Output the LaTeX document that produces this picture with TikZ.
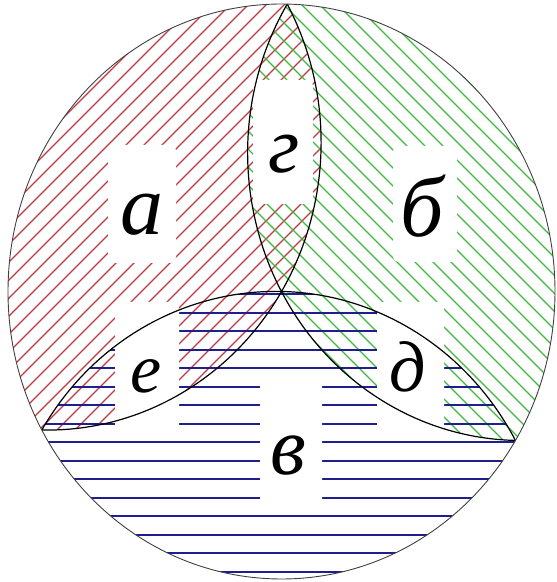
\documentclass[tikz,border=0pt]{standalone}
\usepackage{fontspec}
\setmainfont{Liberation Serif}
\definecolor{hred}{RGB}{195,55,65}
\definecolor{hgreen}{RGB}{60,185,60}
\definecolor{hblue}{RGB}{30,30,140}
\begin{document}
\begin{tikzpicture}[x=1pt,y=1pt,
  mdl/.style={shift={(281.5,290.5)},xscale=273.5,yscale=287.5,rotate=-1.2},
  outl/.style={line width=1.2pt,black},
  circ/.style={line width=0.9pt,black!75},
  redh/.style={line width=1.3pt,hred},
  greenh/.style={line width=1.4pt,hgreen},
  blueh/.style={line width=1.8pt,hblue},
  blob/.style={fill=white,draw=none,rounded corners=6pt},
  lbl/.style={anchor=base,inner sep=0pt,text=black}]
\useasboundingbox (0,0) rectangle (557,582);
% red hatching: disc 2 inside the big circle
\begin{scope}
  \clip[mdl] (0,0) circle (1);
  \clip[mdl] (150:1) circle (1);
  \foreach \k in {-581,-563,...,560} \draw[redh] (\k,0) -- ++(582,582);
\end{scope}
% green hatching: disc 1 inside the big circle
\begin{scope}
  \clip[mdl] (0,0) circle (1);
  \clip[mdl] (30:1) circle (1);
  \foreach \k in {15,33,...,1150} \draw[greenh] (\k,0) -- ++(-582,582);
\end{scope}
% blue hatching: disc 3 inside the big circle
\begin{scope}
  \clip[mdl] (0,0) circle (1);
  \clip[mdl] (270:1) circle (1);
  \foreach \j in {0,...,15} \draw[blueh] (0,{287.7-18.5*\j}) -- (557,{287.7-18.5*\j});
\end{scope}
% white patches round the letters
\fill[blob] (108,319) rectangle (176,437);
\fill[blob] (393,320) rectangle (457,436);
\fill[blob] (253,378) rectangle (313,502);
\fill[blob] (115,150) rectangle (179,280);
\fill[blob] (377,150) rectangle (444,280);
\fill[blob] (260,76) rectangle (322,204);
% outlines
\draw[outl,mdl] (90:1) arc[start angle=150,end angle=270,radius=1];
\draw[outl,mdl] (90:1) arc[start angle=30,end angle=-90,radius=1];
\draw[outl,mdl] (210:1) arc[start angle=150,end angle=30,radius=1];
\draw[circ,mdl] (0,0) circle (1);
% letters
\node[lbl,font=\fontsize{86}{86}\selectfont\itshape] (la) at (142,347) {а};
\node[lbl,font=\fontsize{86}{86}\selectfont\itshape] (lb) at (422,345) {б};
\node[lbl,font=\fontsize{80}{80}\selectfont\itshape] (lg) at (284,409) {г};
\node[lbl,font=\fontsize{70}{70}\selectfont\itshape] (le) at (146,189) {е};
\node[lbl,font=\fontsize{72}{72}\selectfont\itshape] (ld) at (408,190) {д};
\node[lbl,font=\fontsize{82}{82}\selectfont\itshape] (lv) at (288,107) {в};
\end{tikzpicture}
\end{document}
